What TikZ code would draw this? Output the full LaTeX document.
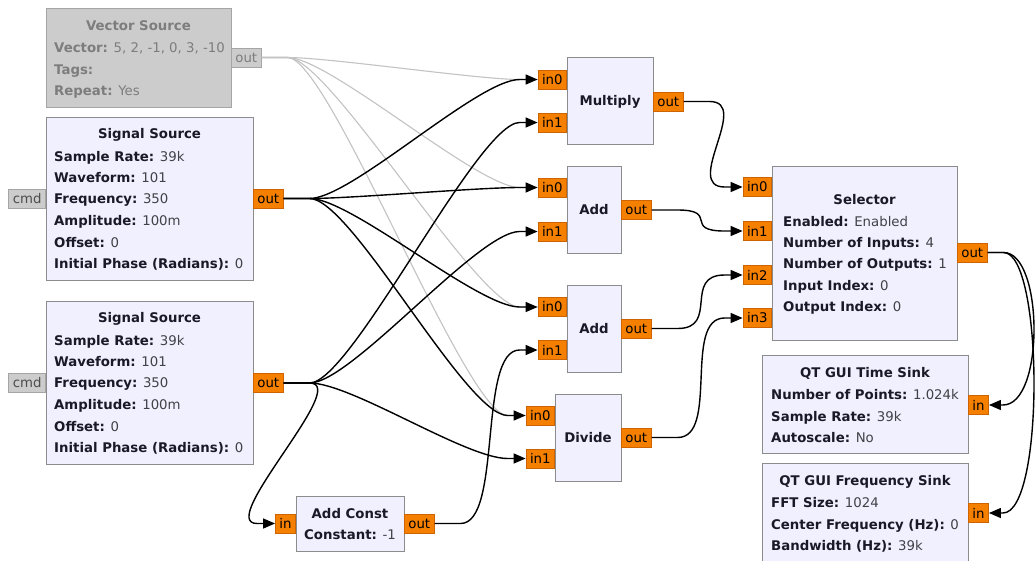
\documentclass[tikz,border=0pt]{standalone}
\usepackage{fontspec}
\setmainfont{DejaVu Sans}
\usetikzlibrary{calc,arrows.meta}

\definecolor{blockfill}{RGB}{240,240,255}
\definecolor{blockline}{RGB}{140,140,140}
\definecolor{offfill}{RGB}{204,204,204}
\definecolor{offline}{RGB}{165,165,165}
\definecolor{offtext}{RGB}{125,125,125}
\definecolor{portfill}{RGB}{245,128,0}
\definecolor{portline}{RGB}{205,100,0}
\definecolor{labtext}{RGB}{25,25,40}
\definecolor{valtext}{RGB}{65,65,70}
\definecolor{offwire}{RGB}{195,195,195}

\tikzset{
  block/.style={draw=blockline, fill=blockfill, line width=1.3pt, inner sep=0pt, anchor=north west},
  offblock/.style={block, draw=offline, fill=offfill},
  port/.style={draw=portline, fill=portfill, line width=0.8pt, inner xsep=4pt, inner ysep=0pt,
    minimum height=19pt, text=black, font=\gfont},
  offport/.style={port, draw=offline, fill=offfill, text=offtext},
  title/.style={anchor=base, inner sep=0pt, font=\gfont\bfseries, text=labtext},
  param/.style={anchor=base west, inner sep=0pt, font=\gfont, text=valtext},
  link/.style={line width=1.4pt, black, -{Triangle[length=12pt,width=10pt]}},
  offlink/.style={line width=1.1pt, offwire},
}
\newcommand\gfont{\fontsize{13.3}{16}\selectfont}
\newcommand\lab[1]{\textcolor{labtext}{\bfseries #1}}
\newcommand\offlab[1]{\textbf{#1}}

% forward connection: source port east -> sink port west
\newcommand\grwire[3][link]{%
  \draw[#1] (#2.east) -- ++(26,0) coordinate (wa)
    .. controls ($(wa)+(42,0)$) and ($(#3.west)+(-60,0)$) .. ($(#3.west)+(-18,0)$) -- (#3.west);}
% looping connection: source port east -> sink port on the right side of a block
\newcommand\grback[2]{%
  \draw[link] (#1.east) -- ++(16,0) coordinate (wa)
    .. controls ($(wa)+(40,0)$) and ($(#2.east)+(56,0)$) .. ($(#2.east)+(14,0)$) -- (#2.east);}

\begin{document}
\begin{tikzpicture}[x=1pt,y=-1pt]
\clip (0,0) rectangle (1036,560);
\fill[white] (0,0) rectangle (1036,560);

% ---------- Vector Source (disabled) ----------
\node[offblock, minimum width=185pt, minimum height=99pt] (vsrc) at (46,8) {};
\node[title, text=offtext] at (138.5,30) {Vector Source};
\begin{scope}[every node/.style={param, text=offtext}]
  \node at (54,52) {\offlab{Vector:} 5, 2, -1, 0, 3, -10};
  \node at (54,74) {\offlab{Tags:}};
  \node at (54,95) {\offlab{Repeat:} Yes};
\end{scope}
\node[offport, anchor=west] (vout) at (231,57.5) {out};

% ---------- Signal Source 1 ----------
\node[block, minimum width=207pt, minimum height=163pt] (ss1) at (46,117) {};
\node[title] at (149.5,138) {Signal Source};
\node[param] at (54,161) {\lab{Sample Rate:} 39k};
\node[param] at (54,182) {\lab{Waveform:} 101};
\node[param] at (54,203) {\lab{Frequency:} 350};
\node[param] at (54,225) {\lab{Amplitude:} 100m};
\node[param] at (54,247) {\lab{Offset:} 0};
\node[param] at (54,268) {\lab{Initial Phase (Radians):} 0};
\node[offport, anchor=east, text=black!70] (ss1cmd) at (46,198.5) {cmd};
\node[port, anchor=west] (ss1out) at (253,198.5) {out};

% ---------- Signal Source 2 ----------
\node[block, minimum width=207pt, minimum height=163pt] (ss2) at (46,301) {};
\node[title] at (149.5,322) {Signal Source};
\node[param] at (54,345) {\lab{Sample Rate:} 39k};
\node[param] at (54,366) {\lab{Waveform:} 101};
\node[param] at (54,387) {\lab{Frequency:} 350};
\node[param] at (54,409) {\lab{Amplitude:} 100m};
\node[param] at (54,431) {\lab{Offset:} 0};
\node[param] at (54,452) {\lab{Initial Phase (Radians):} 0};
\node[offport, anchor=east, text=black!70] (ss2cmd) at (46,383) {cmd};
\node[port, anchor=west] (ss2out) at (253,383) {out};

% ---------- Multiply ----------
\node[block, minimum width=86pt, minimum height=87pt] (mul) at (567,57) {};
\node[title] at (610,105.5) {Multiply};
\node[port, anchor=east] (mulin0) at (567,79.5) {in0};
\node[port, anchor=east] (mulin1) at (567,122.5) {in1};
\node[port, anchor=west] (mulout) at (653,101.5) {out};

% ---------- Add (upper) ----------
\node[block, minimum width=54pt, minimum height=87pt] (adda) at (567,166) {};
\node[title] at (594,214.5) {Add};
\node[port, anchor=east] (addain0) at (567,187.5) {in0};
\node[port, anchor=east] (addain1) at (567,231.5) {in1};
\node[port, anchor=west] (addaout) at (621,210) {out};

% ---------- Add (lower) ----------
\node[block, minimum width=54pt, minimum height=87pt] (addb) at (567,285) {};
\node[title] at (594,333.5) {Add};
\node[port, anchor=east] (addbin0) at (567,307) {in0};
\node[port, anchor=east] (addbin1) at (567,350) {in1};
\node[port, anchor=west] (addbout) at (621,328.5) {out};

% ---------- Divide ----------
\node[block, minimum width=66pt, minimum height=87pt] (div) at (555,394) {};
\node[title] at (588,442.5) {Divide};
\node[port, anchor=east] (divin0) at (555,415.5) {in0};
\node[port, anchor=east] (divin1) at (555,458.5) {in1};
\node[port, anchor=west] (divout) at (621,437.5) {out};

% ---------- Selector ----------
\node[block, minimum width=185pt, minimum height=174pt] (sel) at (772,166) {};
\node[title] at (864.5,204) {Selector};
\node[param] at (783,226) {\lab{Enabled:} Enabled};
\node[param] at (783,247) {\lab{Number of Inputs:} 4};
\node[param] at (783,268) {\lab{Number of Outputs:} 1};
\node[param] at (783,290) {\lab{Input Index:} 0};
\node[param] at (783,311) {\lab{Output Index:} 0};
\node[port, anchor=east] (selin0) at (772,187) {in0};
\node[port, anchor=east] (selin1) at (772,231) {in1};
\node[port, anchor=east] (selin2) at (772,275) {in2};
\node[port, anchor=east] (selin3) at (772,318) {in3};
\node[port, anchor=west] (selout) at (957,252.5) {out};

% ---------- QT GUI Time Sink ----------
\node[block, minimum width=206pt, minimum height=98pt] (tsink) at (762,355) {};
\node[title] at (865,377) {QT GUI Time Sink};
\node[param] at (771,399) {\lab{Number of Points:} 1.024k};
\node[param] at (771,421) {\lab{Sample Rate:} 39k};
\node[param] at (771,442) {\lab{Autoscale:} No};
\node[port, anchor=west] (tsin) at (968,405) {in};

% ---------- QT GUI Frequency Sink ----------
\node[block, minimum width=206pt, minimum height=112pt] (fsink) at (762,463) {};
\node[title] at (865,485) {QT GUI Frequency Sink};
\node[param] at (771,507) {\lab{FFT Size:} 1024};
\node[param] at (771,529) {\lab{Center Frequency (Hz):} 0};
\node[param] at (771,550) {\lab{Bandwidth (Hz):} 39k};
\node[port, anchor=west] (fsin) at (968,513) {in};

% ---------- Add Const ----------
\node[block, minimum width=108pt, minimum height=55pt] (acon) at (296,496) {};
\node[title] at (350,518) {Add Const};
\node[param] at (304,539) {\lab{Constant:} -1};
\node[port, anchor=east] (aconin) at (296,523.5) {in};
\node[port, anchor=west] (aconout) at (404,523.5) {out};

% ---------- connections ----------
\grwire[offlink]{vout}{mulin0}
\grwire[offlink]{vout}{addain0}
\grwire[offlink]{vout}{addbin0}
\grwire[offlink]{vout}{divin0}

\grwire{ss1out}{mulin0}
\grwire{ss1out}{addain0}
\grwire{ss1out}{addbin0}
\grwire{ss1out}{divin0}

\grwire{ss2out}{mulin1}
\grwire{ss2out}{addain1}
\grwire{ss2out}{divin1}
\grwire{ss2out}{aconin}

\grwire{aconout}{addbin1}

\grwire{mulout}{selin0}
\grwire{addaout}{selin1}
\grwire{addbout}{selin2}
\grwire{divout}{selin3}

\grback{selout}{tsin}
\grback{selout}{fsin}
\end{tikzpicture}
\end{document}
